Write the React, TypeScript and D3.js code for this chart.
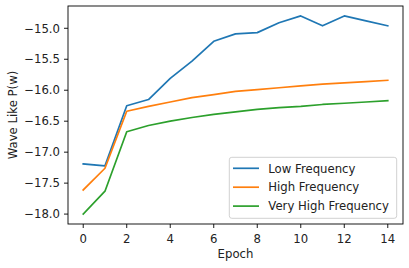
import React, { useEffect, useRef } from 'react'
import * as d3 from 'd3'

// values
const epochs = [0, 1, 2, 3, 4, 5, 6, 7, 8, 9, 10, 11, 12, 13, 14]
const lowFrequency = [-17.19, -17.22, -16.25, -16.15, -15.81, -15.53, -15.21, -15.09, -15.07, -14.91, -14.80, -14.96, -14.80, -14.88, -14.96]
const highFrequency = [-17.61, -17.26, -16.34, -16.26, -16.19, -16.12, -16.07, -16.02, -15.99, -15.96, -15.93, -15.90, -15.88, -15.86, -15.84]
const veryHighFrequency = [-18.00, -17.63, -16.67, -16.57, -16.50, -16.44, -16.39, -16.35, -16.31, -16.28, -16.26, -16.23, -16.21, -16.19, -16.17]
const seriesNames = ['Low Frequency', 'High Frequency', 'Very High Frequency']
const xTicks = [0, 2, 4, 6, 8, 10, 12, 14]
const yTicks = [-18.0, -17.5, -17.0, -16.5, -16.0, -15.5, -15.0]

const colors = ['#1f77b4', '#ff7f0e', '#2ca02c']
const font = 'DejaVu Sans, sans-serif'
const fontSize = 11.7

export default function App() {
  const ref = useRef<SVGSVGElement>(null)

  useEffect(() => {
    const width = 409, height = 268
    const margin = { top: 6, right: 6, bottom: 44, left: 68 }
    const svg = d3.select(ref.current)
    svg.selectAll('*').remove()

    const allValues = [...lowFrequency, ...highFrequency, ...veryHighFrequency]
    const yMin = d3.min(allValues)!, yMax = d3.max(allValues)!
    const yPad = (yMax - yMin) * 0.05
    const xPad = (d3.max(epochs)! - d3.min(epochs)!) * 0.05

    // matplotlib style 5% margins
    const x = d3.scaleLinear()
      .domain([d3.min(epochs)! - xPad, d3.max(epochs)! + xPad])
      .range([margin.left, width - margin.right])
    const y = d3.scaleLinear()
      .domain([yMin - yPad, yMax + yPad])
      .range([height - margin.bottom, margin.top])

    const bottom = height - margin.bottom

    // lines
    const line = d3.line<number>()
      .x((_, i) => x(epochs[i]))
      .y((d) => y(d))
    const series = [lowFrequency, highFrequency, veryHighFrequency]
    series.forEach((s, i) => {
      svg.append('path')
        .attr('d', line(s))
        .attr('fill', 'none')
        .attr('stroke', colors[i])
        .attr('stroke-width', 1.7)
        .attr('stroke-linejoin', 'round')
        .attr('stroke-linecap', 'square')
    })

    // x ticks
    const xg = svg.append('g')
    xTicks.forEach((t) => {
      xg.append('line')
        .attr('x1', x(t)).attr('x2', x(t))
        .attr('y1', bottom).attr('y2', bottom + 4)
        .attr('stroke', '#000').attr('stroke-width', 0.9)
      xg.append('text')
        .attr('x', x(t)).attr('y', 242.6)
        .attr('text-anchor', 'middle')
        .attr('font-family', font).attr('font-size', fontSize)
        .attr('fill', '#222')
        .text(String(t))
    })

    // y ticks
    const yg = svg.append('g')
    yTicks.forEach((t) => {
      yg.append('line')
        .attr('x1', margin.left - 4).attr('x2', margin.left)
        .attr('y1', y(t)).attr('y2', y(t))
        .attr('stroke', '#000').attr('stroke-width', 0.9)
      yg.append('text')
        .attr('x', margin.left - 8).attr('y', y(t))
        .attr('dy', '0.36em')
        .attr('text-anchor', 'end')
        .attr('font-family', font).attr('font-size', fontSize)
        .attr('fill', '#222')
        .text(t.toFixed(1).replace('-', '\u2212'))
    })

    // frame
    svg.append('rect')
      .attr('x', margin.left).attr('y', margin.top)
      .attr('width', width - margin.left - margin.right)
      .attr('height', height - margin.top - margin.bottom)
      .attr('fill', 'none').attr('stroke', '#000').attr('stroke-width', 0.9)

    // axis labels
    svg.append('text')
      .attr('x', (margin.left + width - margin.right) / 2).attr('y', 258.3)
      .attr('text-anchor', 'middle')
      .attr('font-family', font).attr('font-size', fontSize)
      .attr('fill', '#222')
      .text('Epoch')
    svg.append('text')
      .attr('transform', `translate(12.3,${(margin.top + bottom) / 2}) rotate(-90)`)
      .attr('dy', '0.36em')
      .attr('text-anchor', 'middle')
      .attr('font-family', font).attr('font-size', fontSize)
      .attr('fill', '#222')
      .text('Wave Like P(w)')

    // legend
    const lg = svg.append('g')
    lg.append('rect')
      .attr('x', 229.3).attr('y', 157.3)
      .attr('width', 167.4).attr('height', 61)
      .attr('rx', 2.5)
      .attr('fill', '#fff').attr('fill-opacity', 0.8)
      .attr('stroke', '#ccc').attr('stroke-width', 0.9)
    seriesNames.forEach((name, i) => {
      const ly = 168.3 + i * 18.9
      lg.append('line')
        .attr('x1', 233).attr('x2', 259)
        .attr('y1', ly).attr('y2', ly)
        .attr('stroke', colors[i]).attr('stroke-width', 1.7)
      lg.append('text')
        .attr('x', 268.3).attr('y', ly)
        .attr('dy', '0.36em')
        .attr('font-family', font).attr('font-size', fontSize)
        .attr('fill', '#222')
        .text(name)
    })
  }, [])

  return (
    <svg ref={ref} width={409} height={268}
      style={{ position: 'absolute', left: 0, top: 0, background: '#fff' }} />
  )
}
